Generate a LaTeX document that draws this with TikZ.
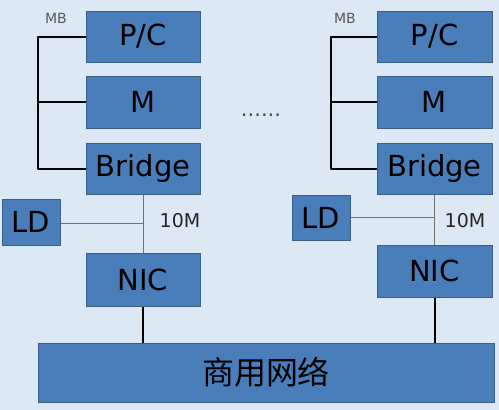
\documentclass[tikz,border=0pt]{standalone}
\usepackage{fontspec}
\setmainfont{DejaVu Sans}
\newfontfamily\cjk{Noto Sans CJK SC}
\definecolor{bgcol}{HTML}{DCE8F4}
\definecolor{boxfill}{HTML}{4A7EBB}
\definecolor{boxline}{HTML}{3B5F8A}
\definecolor{thinline}{HTML}{707070}
\begin{document}
\begin{tikzpicture}[x=1pt,y=-1pt,
  blk/.style={draw=boxline,line width=1pt,fill=boxfill,inner sep=0pt,
    minimum width=114pt,minimum height=51pt,font=\fontsize{29}{31}\selectfont,text=black},
  ldbox/.style={blk,minimum width=58pt,minimum height=46pt},
  bus/.style={line width=2pt,black,line cap=round,line join=round},
  thin/.style={line width=1pt,thinline},
  thick/.style={line width=2pt,black},
  lbl/.style={font=\fontsize{19}{21}\selectfont,text=black!85},
  mblbl/.style={font=\fontsize{14}{15}\selectfont,text=black!65}
]
\fill[bgcol] (0,0) rectangle (499,410);
\useasboundingbox (0,0) rectangle (499,410);
% left column
\node[blk] (pc1) at (143,36.5) {P/C};
\node[blk,minimum height=52pt] (m1) at (143,102) {M};
\node[blk] (br1) at (143,168.5) {Bridge};
\node[ldbox] (ld1) at (31,222) {LD};
\node[blk,minimum height=53pt] (nic1) at (143,279.5) {NIC};
% right column
\node[blk,minimum width=115pt] (pc2) at (434.5,36.5) {P/C};
\node[blk,minimum width=115pt,minimum height=52pt] (m2) at (434.5,102) {M};
\node[blk,minimum width=115pt] (br2) at (434.5,168.5) {Bridge};
\node[ldbox,minimum height=45pt] (ld2) at (321,217.5) {LD};
\node[blk,minimum width=115pt,minimum height=52pt] (nic2) at (434.5,271) {NIC};
% network
\node[blk,minimum width=456pt,minimum height=59pt,font=\cjk\fontsize{32}{34}\selectfont] (net) at (266,372.5) {商用网络};
% labels
\node[mblbl] (mb1) at (56,18) {MB};
\node[mblbl] (mb2) at (345,18) {MB};
\node[lbl] (t1) at (180,221) {10M};
\node[lbl] (t2) at (465,221) {10M};
\node[font=\fontsize{21}{22}\selectfont,text=black!70,inner sep=0pt,anchor=base] (dots) at (261,116) {......};
% buses
\draw[bus] (pc1.west) -- (38,36.5) |- (br1.west);
\draw[bus] (38,102) -- (m1.west);
\draw[bus] (pc2.west) -- (331,36.5) |- (br2.west);
\draw[bus] (331,102) -- (m2.west);
% 10M links
\draw[thin] (br1.south) -- (nic1.north);
\coordinate (j1) at (143,223);
\draw[thin] (ld1.east |- j1) -- (j1);
\draw[thin] (br2.south) -- (nic2.north);
\coordinate (j2) at (434.5,217.5);
\draw[thin] (ld2.east) -- (j2);
% NIC to network
\draw[thick] (nic1.south) -- (nic1.south |- net.north);
\draw[thick] (nic2.south) -- (nic2.south |- net.north);
\end{tikzpicture}
\end{document}
